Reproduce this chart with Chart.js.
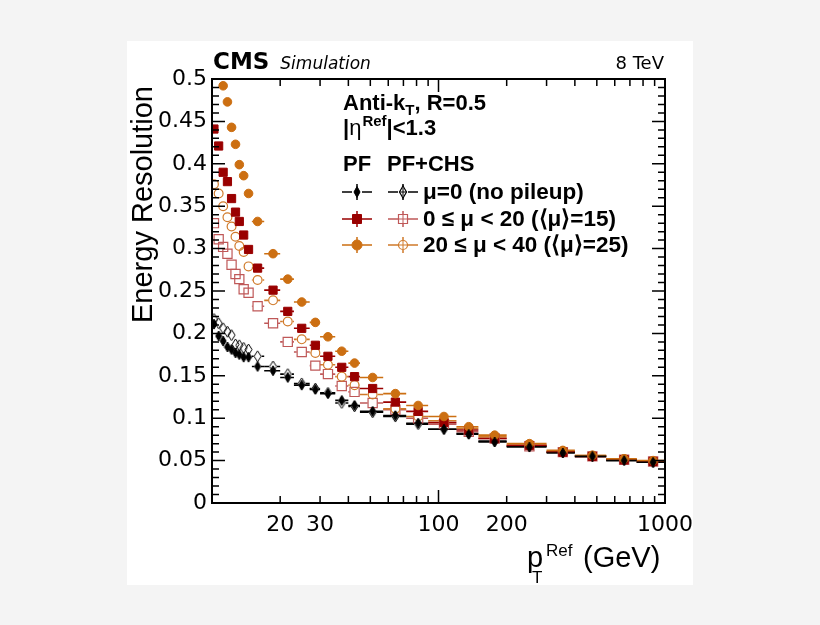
<!DOCTYPE html>
<html>
<head>
<meta charset="utf-8">
<script src="https://cdn.jsdelivr.net/npm/chart.js@4.4.1/dist/chart.umd.min.js"></script>
<style>
  html, body { margin: 0; padding: 0; background: #f4f4f4; }
  canvas { display: block; }
</style>
</head>
<body>
<canvas id="myChart" width="820" height="625"></canvas>
<script>
// pT bin centres (GeV) and bin edges, shared by all curves
const ptBins = [10.2, 10.7, 11.2, 11.7, 12.2, 12.7, 13.2, 13.8, 14.5, 15.9, 18.6, 21.6, 24.9, 28.6,
  32.5, 37.4, 42.6, 51.2, 64.5, 81.3, 105.7, 136, 177, 252, 354, 478, 660, 886];
const binEdges = [10, 10.45, 10.95, 11.45, 11.95, 12.45, 12.95, 13.5, 14.1, 15, 17, 20, 23, 27, 30,
  35, 40, 45, 57, 72, 90, 120, 150, 200, 300, 400, 550, 750, 1000];

const xTickLabels = [20, 30, 100, 200, 1000];
const yTickStep = 0.05;

// energy resolution per bin
const pfMu0 = [0.211, 0.197, 0.191, 0.184, 0.181, 0.177, 0.175, 0.172, 0.172, 0.161, 0.156, 0.148, 0.139, 0.134,
  0.129, 0.121, 0.115, 0.108, 0.103, 0.094, 0.087, 0.081, 0.072, 0.066, 0.059, 0.055, 0.050, 0.048];
const chsMu0 = [0.217, 0.212, 0.206, 0.202, 0.198, 0.187, 0.186, 0.183, 0.181, 0.173, 0.161, 0.152, 0.141, 0.135,
  0.130, 0.118, 0.114, 0.107, 0.102, 0.093, 0.087, 0.082, 0.073, 0.067, 0.060, 0.055, 0.051, 0.048];
const pf0to20 = [0.441, 0.421, 0.390, 0.379, 0.359, 0.343, 0.332, 0.316, 0.299, 0.277, 0.251, 0.226, 0.206, 0.186,
  0.173, 0.160, 0.149, 0.135, 0.119, 0.108, 0.095, 0.086, 0.076, 0.068, 0.060, 0.055, 0.051, 0.049];
const chs0to20 = [0.330, 0.311, 0.302, 0.294, 0.281, 0.270, 0.264, 0.252, 0.248, 0.232, 0.212, 0.190, 0.178, 0.162,
  0.152, 0.138, 0.131, 0.118, 0.110, 0.100, 0.093, 0.084, 0.076, 0.067, 0.060, 0.055, 0.051, 0.049];
const pf20to40 = [null, null, 0.492, 0.473, 0.443, 0.423, 0.399, 0.386, 0.365, 0.332, 0.294, 0.264, 0.237, 0.213,
  0.196, 0.179, 0.165, 0.148, 0.129, 0.115, 0.102, 0.090, 0.080, 0.070, 0.062, 0.056, 0.052, 0.050];
const chs20to40 = [0.376, 0.365, 0.350, 0.337, 0.326, 0.314, 0.303, 0.296, 0.279, 0.263, 0.239, 0.214, 0.193, 0.177,
  0.163, 0.149, 0.139, 0.128, 0.111, 0.102, 0.097, 0.088, 0.078, 0.068, 0.061, 0.056, 0.052, 0.049];

const BLACK = '#000000', RED = '#990000', PINK = '#bf5858', ORANGE = '#cc6f12', LORANGE = '#d07a2a';

function diamond(w, h, fill, stroke) {
  const c = document.createElement('canvas');
  c.width = w + 2; c.height = h + 2;
  const g = c.getContext('2d');
  g.beginPath();
  g.moveTo(c.width / 2, 1); g.lineTo(c.width - 1, c.height / 2);
  g.lineTo(c.width / 2, c.height - 1); g.lineTo(1, c.height / 2); g.closePath();
  if (fill) { g.fillStyle = fill; g.fill(); }
  g.strokeStyle = stroke; g.lineWidth = 1; g.stroke();
  return c;
}
const fullDiamond = diamond(6, 10, BLACK, BLACK);
const openDiamond = diamond(7, 11, null, BLACK);

function points(vals) {
  const out = [];
  vals.forEach((v, i) => { if (v !== null) out.push({ x: ptBins[i], y: v, i: i }); });
  return out;
}

// first dataset is drawn on top
const datasets = [
  { label: 'PF mu=0', data: points(pfMu0), pointStyle: fullDiamond, pointRadius: 4,
    backgroundColor: BLACK, borderColor: BLACK, barColor: BLACK, gap: 3 },
  { label: 'PF 20-40', data: points(pf20to40), pointStyle: 'circle', pointRadius: 4.3,
    backgroundColor: ORANGE, borderColor: ORANGE, pointBorderWidth: 1, barColor: ORANGE, gap: 4 },
  { label: 'PF 0-20', data: points(pf0to20), pointStyle: 'rect', pointRadius: 5.8,
    backgroundColor: RED, borderColor: RED, pointBorderWidth: 1, barColor: RED, gap: 4 },
  { label: 'PF+CHS mu=0', data: points(chsMu0), pointStyle: openDiamond, pointRadius: 4,
    backgroundColor: 'rgba(0,0,0,0)', borderColor: BLACK, barColor: BLACK, gap: 4 },
  { label: 'PF+CHS 20-40', data: points(chs20to40), pointStyle: 'circle', pointRadius: 4.4,
    backgroundColor: 'rgba(0,0,0,0)', borderColor: LORANGE, pointBorderWidth: 1.2, barColor: LORANGE, gap: 5 },
  { label: 'PF+CHS 0-20', data: points(chs0to20), pointStyle: 'rect', pointRadius: 6.5,
    backgroundColor: 'rgba(0,0,0,0)', borderColor: PINK, pointBorderWidth: 1.2, barColor: PINK, gap: 5 }
];

const pageBg = {
  id: 'pageBg',
  beforeDraw(chart) {
    const ctx = chart.ctx;
    ctx.save();
    ctx.fillStyle = '#ffffff';
    ctx.fillRect(127, 41, 566, 544);
    ctx.restore();
  }
};

const errorBars = {
  id: 'errorBars',
  beforeDatasetsDraw(chart) {
    const { ctx, chartArea: a } = chart;
    const xs = chart.scales.x, ys = chart.scales.y;
    ctx.save();
    ctx.beginPath(); ctx.rect(a.left, a.top, a.width, a.height); ctx.clip();
    ctx.lineWidth = 1.6;
    for (let d = chart.data.datasets.length - 1; d >= 0; d--) {
      const ds = chart.data.datasets[d];
      ctx.strokeStyle = ds.barColor;
      ds.data.forEach(p => {
        const xl = xs.getPixelForValue(binEdges[p.i]);
        const xr = xs.getPixelForValue(binEdges[p.i + 1]);
        const px = xs.getPixelForValue(p.x), py = ys.getPixelForValue(p.y);
        ctx.beginPath();
        if (px - ds.gap > xl) { ctx.moveTo(xl, py); ctx.lineTo(px - ds.gap, py); }
        if (px + ds.gap < xr) { ctx.moveTo(px + ds.gap, py); ctx.lineTo(xr, py); }
        ctx.stroke();
      });
    }
    ctx.restore();
  }
};

const frameTicks = {
  id: 'frameTicks',
  afterDatasetsDraw(chart) {
    const { ctx, chartArea: a } = chart;
    const xs = chart.scales.x, ys = chart.scales.y;
    ctx.save();
    ctx.strokeStyle = '#000';
    ctx.lineWidth = 1.5;
    ctx.beginPath();
    for (let k = 0; k <= 50; k++) {
      const py = ys.getPixelForValue(k * 0.01);
      const len = k % 5 === 0 ? 13 : 7;
      ctx.moveTo(a.left, py); ctx.lineTo(a.left + len, py);
      ctx.moveTo(a.right, py); ctx.lineTo(a.right - len, py);
    }
    [10, 100].forEach(dec => {
      for (let m = 1; m <= 10; m++) {
        const v = m * dec;
        if (v < 10 || v > 1000) continue;
        const px = xs.getPixelForValue(v);
        const len = (m === 1 || m === 10) ? 13 : 7;
        ctx.moveTo(px, a.bottom); ctx.lineTo(px, a.bottom - len);
        ctx.moveTo(px, a.top); ctx.lineTo(px, a.top + len);
      }
    });
    ctx.stroke();
    ctx.lineWidth = 2;
    ctx.strokeRect(a.left, a.top, a.width, a.height);
    ctx.restore();
  }
};

function textRun(ctx, x, y, parts) {
  parts.forEach(p => {
    ctx.font = p.font;
    ctx.fillText(p.t, x, y + (p.dy || 0));
    x += ctx.measureText(p.t).width + (p.after || 0);
  });
}

function legendMark(ctx, x, y, color, kind, filled) {
  ctx.save();
  ctx.strokeStyle = color; ctx.fillStyle = color; ctx.lineWidth = 1.5;
  ctx.beginPath();
  ctx.moveTo(x - 15, y); ctx.lineTo(x - 5, y);
  ctx.moveTo(x + 5, y); ctx.lineTo(x + 15, y);
  ctx.moveTo(x, y - 8); ctx.lineTo(x, y - 5);
  ctx.moveTo(x, y + 5); ctx.lineTo(x, y + 8);
  ctx.stroke();
  ctx.lineWidth = filled ? 1 : 1.2;
  ctx.beginPath();
  if (kind === 'diamond') {
    const w = filled ? 3 : 3.5, h = filled ? 5.5 : 6;
    ctx.moveTo(x, y - h); ctx.lineTo(x + w, y); ctx.lineTo(x, y + h); ctx.lineTo(x - w, y); ctx.closePath();
  } else if (kind === 'square') {
    ctx.rect(x - 4.5, y - 4.5, 9, 9);
  } else {
    ctx.arc(x, y, filled ? 5 : 4.5, 0, Math.PI * 2);
  }
  if (filled) ctx.fill();
  ctx.stroke();
  if (!filled) {
    ctx.beginPath();
    ctx.moveTo(x - 4, y); ctx.lineTo(x + 4, y);
    ctx.moveTo(x, y - 4); ctx.lineTo(x, y + 4);
    ctx.lineWidth = 1; ctx.stroke();
  }
  ctx.restore();
}

const annotations = {
  id: 'annotations',
  afterDraw(chart) {
    const ctx = chart.ctx;
    const a = chart.chartArea;
    ctx.save();
    ctx.fillStyle = '#000';
    ctx.textBaseline = 'alphabetic';

    // header
    textRun(ctx, a.left + 1, 69, [{ t: 'CMS', font: 'bold 23px "DejaVu Sans"', after: 11 },
      { t: 'Simulation', font: 'italic 17px "DejaVu Sans"' }]);
    ctx.font = '18px "DejaVu Sans"';
    ctx.textAlign = 'right';
    ctx.fillText('8 TeV', a.right - 1, 69);
    ctx.textAlign = 'left';

    // y title
    ctx.save();
    ctx.translate(152, 323);
    ctx.rotate(-Math.PI / 2);
    ctx.font = '29px "Liberation Sans"';
    ctx.fillText('Energy Resolution', 0, 0);
    ctx.restore();

    // x title
    ctx.font = '29px "Liberation Sans"';
    ctx.fillText('p', 527, 567);
    ctx.font = '17px "Liberation Sans"';
    ctx.fillText('T', 532, 583);
    ctx.fillText('Ref', 546, 556);
    ctx.font = '29px "Liberation Sans"';
    ctx.fillText('(GeV)', 583, 567);

    // legend block
    const B = 'bold 22px "Liberation Sans"', S = 'bold 15px "Liberation Sans"';
    textRun(ctx, 343, 110, [{ t: 'Anti-k', font: B }, { t: 'T', font: S, dy: 5 }, { t: ', R=0.5', font: B }]);
    textRun(ctx, 343, 135, [{ t: '|', font: B }, { t: 'η', font: '22px "Liberation Sans"', after: 1 },
      { t: 'Ref', font: S, dy: -9 }, { t: '|<1.3', font: B }]);
    ctx.font = B;
    ctx.fillText('PF', 343, 171);
    ctx.fillText('PF+CHS', 387, 171);

    const rows = [
      { y: 192, c1: BLACK, c2: BLACK, kind: 'diamond', text: 'μ=0 (no pileup)' },
      { y: 219, c1: RED, c2: PINK, kind: 'square', text: '0 ≤ μ < 20 (⟨μ⟩=15)' },
      { y: 245, c1: ORANGE, c2: LORANGE, kind: 'circle', text: '20 ≤ μ < 40 (⟨μ⟩=25)' }
    ];
    rows.forEach(r => {
      legendMark(ctx, 357, r.y, r.c1, r.kind, true);
      legendMark(ctx, 403, r.y, r.c2, r.kind, false);
      ctx.font = 'bold 22.5px "Liberation Sans"';
      ctx.fillStyle = '#000';
      ctx.fillText(r.text, 423, r.y + 7);
    });
    ctx.restore();
  }
};

new Chart(document.getElementById('myChart'), {
  type: 'scatter',
  data: { datasets: datasets },
  options: {
    responsive: false,
    animation: false,
    devicePixelRatio: 1,
    layout: { padding: { top: 79, right: 155, left: 0, bottom: 0 } },
    plugins: { legend: { display: false }, tooltip: { enabled: false } },
    scales: {
      x: {
        type: 'logarithmic', min: 10, max: 1000,
        afterBuildTicks: s => { s.ticks = xTickLabels.map(v => ({ value: v })); },
        afterFit: s => { s.height = 122; },
        grid: { display: false, drawTicks: false },
        border: { display: false },
        ticks: { autoSkip: false, maxRotation: 0, padding: 9, color: '#000',
          font: { family: 'DejaVu Sans', size: 22 }, callback: v => String(v) }
      },
      y: {
        min: 0, max: 0.5,
        afterFit: s => { s.width = 212; },
        grid: { display: false, drawTicks: false },
        border: { display: false },
        ticks: { stepSize: yTickStep, padding: 5, color: '#000',
          font: { family: 'DejaVu Sans', size: 22 }, callback: v => String(+v.toFixed(2)) }
      }
    }
  },
  plugins: [pageBg, errorBars, frameTicks, annotations]
});
</script>
</body>
</html>
